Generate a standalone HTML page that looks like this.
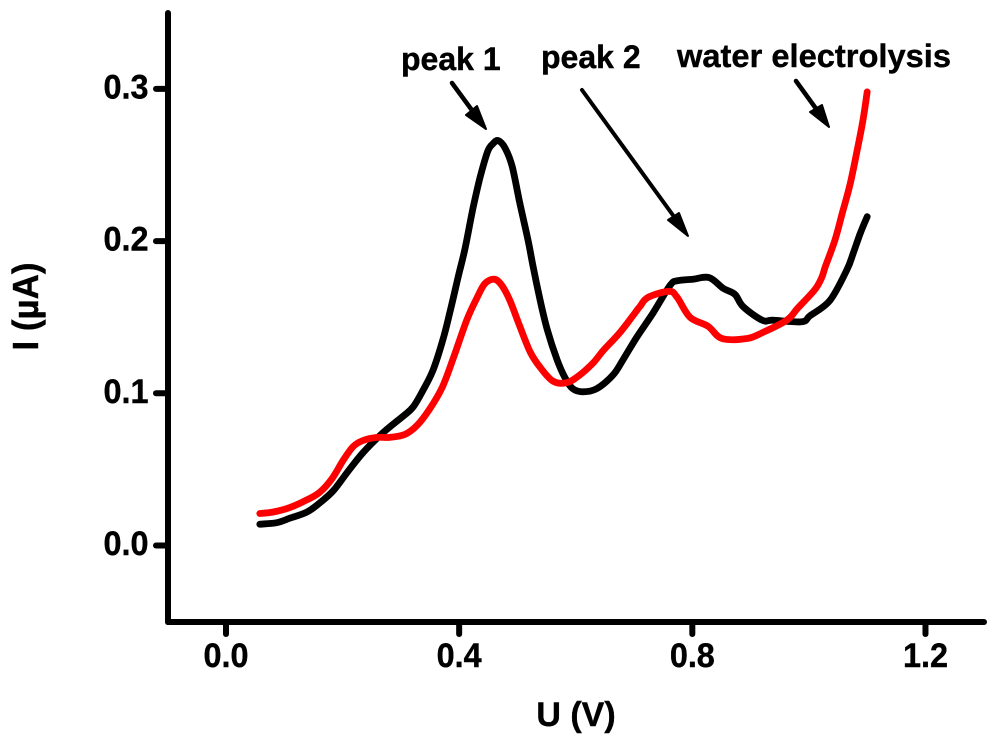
<!DOCTYPE html>
<html>
<head>
<meta charset="utf-8">
<style>
html,body{margin:0;padding:0;background:#fff;}
svg{display:block;}
text{font-family:"Liberation Sans",sans-serif;font-weight:bold;fill:#000;stroke:#000;stroke-width:0.4px;}
</style>
</head>
<body>
<svg id="chart" width="1000" height="746" viewBox="0 0 1000 746" xmlns="http://www.w3.org/2000/svg">
  <rect x="0" y="0" width="1000" height="746" fill="#fff"/>
  <g id="axes"></g>
  <g id="series"></g>
  <g>
    <text x="401" y="70" font-size="32">peak 1</text>
    <line x1="452" y1="83" x2="474" y2="113" stroke="#000" stroke-width="4.5" stroke-linecap="round"/>
    <polygon points="486,129 466,115 477,106" fill="#000" stroke="#000" stroke-width="2" stroke-linejoin="round"/>
    <text x="541" y="68" font-size="32">peak 2</text>
    <line x1="582" y1="90" x2="675" y2="218" stroke="#000" stroke-width="4" stroke-linecap="round"/>
    <polygon points="688,236 668,220 679,213" fill="#000" stroke="#000" stroke-width="2" stroke-linejoin="round"/>
    <text x="677" y="67" font-size="32.5" textLength="274" lengthAdjust="spacingAndGlyphs">water electrolysis</text>
    <line x1="796" y1="81" x2="817" y2="110" stroke="#000" stroke-width="4.5" stroke-linecap="round"/>
    <polygon points="829,127 810,112 822,105" fill="#000" stroke="#000" stroke-width="2" stroke-linejoin="round"/>
  </g>
  <text x="576" y="726" font-size="34" text-anchor="middle">U (V)</text>
  <text transform="translate(38,306.5) rotate(-90)" font-size="36" text-anchor="middle" textLength="88" lengthAdjust="spacingAndGlyphs">I (µA)</text>
</svg>
<script>
const xTicks = [0.0, 0.4, 0.8, 1.2];
const xTickLabels = ["0.0", "0.4", "0.8", "1.2"];
const yTicks = [0.0, 0.1, 0.2, 0.3];
const yTickLabels = ["0.0", "0.1", "0.2", "0.3"];

const blackU = [0.058,0.087,0.110,0.139,0.161,0.184,0.208,0.235,0.269,0.304,0.321,0.338,0.355,0.372,0.384,0.398,0.410,0.424,0.436,0.449,0.458,0.467,0.479,0.491,0.504,0.518,0.527,0.539,0.551,0.568,0.582,0.595,0.612,0.636,0.664,0.681,0.705,0.733,0.762,0.775,0.801,0.829,0.853,0.873,0.887,0.920,0.938,0.988,1.002,1.036,1.065,1.076,1.088,1.100];
const blackI = [0.014,0.015,0.018,0.022,0.028,0.036,0.048,0.061,0.074,0.085,0.091,0.102,0.115,0.135,0.153,0.176,0.195,0.222,0.242,0.259,0.264,0.266,0.261,0.249,0.225,0.201,0.183,0.161,0.142,0.122,0.110,0.103,0.101,0.103,0.112,0.122,0.137,0.153,0.171,0.174,0.175,0.176,0.169,0.165,0.157,0.148,0.148,0.147,0.151,0.161,0.181,0.192,0.205,0.216];

const redU = [0.058,0.081,0.110,0.139,0.161,0.182,0.201,0.218,0.235,0.259,0.281,0.307,0.328,0.350,0.371,0.389,0.413,0.431,0.444,0.460,0.473,0.487,0.504,0.522,0.539,0.561,0.585,0.607,0.630,0.647,0.676,0.698,0.710,0.724,0.760,0.774,0.796,0.827,0.851,0.894,0.921,0.962,0.981,1.010,1.022,1.028,1.045,1.057,1.071,1.084,1.093,1.100];
const redI = [0.021,0.022,0.025,0.030,0.035,0.044,0.056,0.065,0.069,0.071,0.071,0.073,0.079,0.090,0.104,0.122,0.148,0.163,0.172,0.175,0.171,0.161,0.144,0.127,0.117,0.108,0.107,0.112,0.120,0.128,0.140,0.151,0.157,0.163,0.167,0.163,0.150,0.144,0.136,0.136,0.140,0.148,0.156,0.168,0.176,0.183,0.201,0.218,0.238,0.262,0.280,0.298];

const SVG_NS = "http://www.w3.org/2000/svg";
function xScale(v){ return 226 + v * 582.9; }
function yScale(v){ return 545.5 - v * 1522; }
function make(tag, attrs, parent){
  const el = document.createElementNS(SVG_NS, tag);
  for (const k in attrs) el.setAttribute(k, attrs[k]);
  parent.appendChild(el);
  return el;
}
const axes = document.getElementById("axes");
const axisStyle = {stroke:"#000","stroke-width":6,"stroke-linecap":"round",fill:"none"};

const yAxisLine = make("line", Object.assign({x1:168,y1:13,x2:168,y2:622}, axisStyle), axes);


const xAxisLine = make("line", Object.assign({x1:168,y1:622,x2:984,y2:622}, axisStyle), axes);



xTicks.forEach(function(t, i){
  const px = xScale(t);
  const tick = make("line", Object.assign({x1:px,y1:622,x2:px,y2:634}, axisStyle), axes);
  
  
  const label = make("text", {x:px, y:667, "font-size":34, "text-anchor":"middle", textLength:45, lengthAdjust:"spacingAndGlyphs"}, axes);
  
  
  label.textContent = xTickLabels[i];
});
yTicks.forEach(function(t, i){
  const py = yScale(t);
  const tick = make("line", Object.assign({x1:156,y1:py,x2:168,y2:py}, axisStyle), axes);
  
  
  const label = make("text", {x:148.5, y:py + 9.5, "font-size":34, "text-anchor":"end", textLength:45, lengthAdjust:"spacingAndGlyphs"}, axes);
  
  
  label.textContent = yTickLabels[i];
});

function smoothPath(us, is){
  const p = us.map(function(u, i){ return [xScale(u), yScale(is[i])]; });
  let d = "M" + p[0][0].toFixed(1) + " " + p[0][1].toFixed(1);
  for (let i = 0; i < p.length - 1; i++){
    const a = p[Math.max(i - 1, 0)], b = p[i], c = p[i + 1], e = p[Math.min(i + 2, p.length - 1)];
    const c1x = b[0] + (c[0] - a[0]) / 6, c1y = b[1] + (c[1] - a[1]) / 6;
    const c2x = c[0] - (e[0] - b[0]) / 6, c2y = c[1] - (e[1] - b[1]) / 6;
    d += "C" + c1x.toFixed(1) + " " + c1y.toFixed(1) + " " + c2x.toFixed(1) + " " + c2y.toFixed(1) + " " + c[0].toFixed(1) + " " + c[1].toFixed(1);
  }
  return d;
}
const series = document.getElementById("series");
const lineStyle = {fill:"none","stroke-width":6.8,"stroke-linejoin":"round","stroke-linecap":"round"};

const blackLine = make("path", Object.assign({d:smoothPath(blackU, blackI), stroke:"#000"}, lineStyle), series);


const redLine = make("path", Object.assign({d:smoothPath(redU, redI), stroke:"#f00"}, lineStyle), series);


</script>
</body>
</html>
